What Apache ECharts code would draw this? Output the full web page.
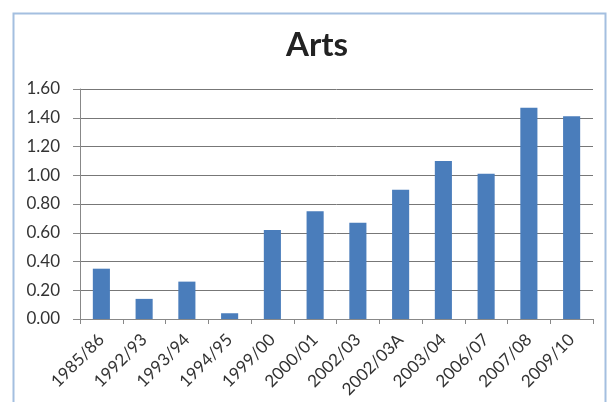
<!DOCTYPE html>
<html>
<head>
<meta charset="utf-8">
<title>Arts</title>
<script src="https://cdn.jsdelivr.net/npm/echarts@6/dist/echarts.min.js"></script>
<style>
  html, body { margin: 0; padding: 0; background: #fff; }
  #chart { width: 610px; height: 402px; }
</style>
</head>
<body>
<div id="chart"></div>
<script>
const years = ['1985/86', '1992/93', '1993/94', '1994/95', '1999/00', '2000/01',
  '2002/03', '2002/03A', '2003/04', '2006/07', '2007/08', '2009/10']
const arts = [0.35, 0.14, 0.26, 0.04, 0.62, 0.75, 0.67, 0.90, 1.10, 1.01, 1.47, 1.41]

const chart = echarts.init(document.getElementById('chart'))

chart.setOption({
  backgroundColor: '#fff',
  animation: false,
  textStyle: { fontFamily: 'Lato' },
  title: {
    text: 'Arts',
    left: 281,
    top: 24,
    textStyle: { fontSize: 33, fontWeight: 'bold', color: '#222', fontFamily: 'Lato' }
  },
  graphic: [{
    type: 'rect',
    shape: { x: 13.5, y: 13.5, width: 592, height: 400 },
    style: { fill: 'none', stroke: '#a4bfe0', lineWidth: 2 },
    silent: true
  }],
  grid: { left: 80, right: 17, top: 89, bottom: 83 },
  xAxis: {
    type: 'category',
    data: years,
    axisLine: { lineStyle: { color: '#888' } },
    axisTick: { show: true, length: 5, lineStyle: { color: '#888' } },
    axisLabel: { rotate: 45, fontSize: 17, color: '#333', margin: 18, interval: 0 }
  },
  yAxis: {
    type: 'value',
    min: 0,
    max: 1.6,
    interval: 0.2,
    axisLine: { show: true, lineStyle: { color: '#888' } },
    axisTick: { show: true, length: 7, lineStyle: { color: '#888' } },
    axisLabel: {
      fontSize: 17,
      color: '#333',
      margin: 20,
      formatter: v => v.toFixed(2)
    },
    splitLine: { lineStyle: { color: '#777', width: 1 } }
  },
  series: [{
    type: 'bar',
    data: arts,
    barWidth: '40%',
    itemStyle: { color: '#4a7dbb' }
  }]
})
</script>
</body>
</html>
